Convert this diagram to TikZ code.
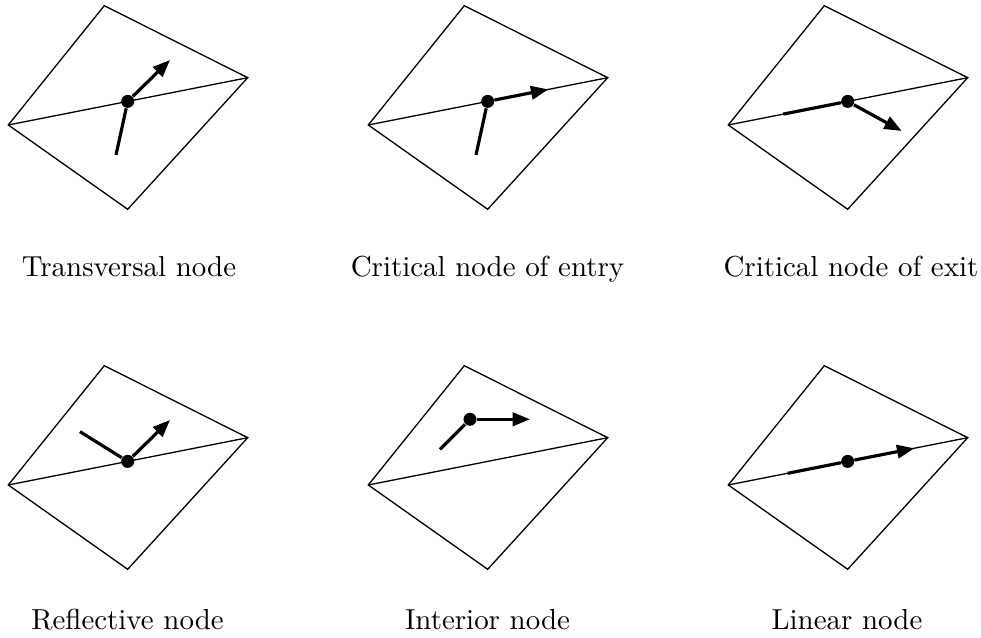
\documentclass[tikz,border=0pt]{standalone}
\usetikzlibrary{arrows.meta}
\newcommand\mycell[1]{%
  \coordinate (#1T) at (104.3,5.7);
  \coordinate (#1R) at (247.7,77.7);
  \coordinate (#1B) at (127.7,209.3);
  \coordinate (#1L) at (8.3,125);
  \draw[edge] (#1T) -- (#1R) -- (#1B) -- (#1L) -- cycle;
  \draw[edge] (#1L) -- (#1R);
}
\begin{document}
\begin{tikzpicture}[x=0.3457pt,y=-0.3457pt,
  edge/.style={line width=0.45pt,line join=miter},
  vec/.style={line width=1.1pt,-{Triangle[length=6pt,width=4.6pt]}},
  seg/.style={line width=1.1pt},
  dot/.style={circle,fill,inner sep=0pt,minimum size=4.5pt},
  lbl/.style={anchor=base}]
\useasboundingbox (0,0) rectangle (981,638);
% Panel 1: Transversal
\begin{scope}
  \mycell{a}
  \node[dot] (da) at (127.7,101.4) {};
  \coordinate (ta) at (170,60);
  \coordinate (sa) at (116,155);
  \draw[seg] (sa) -- (da);
  \draw[vec] (da) -- (ta);
  \node[lbl] (la) at (129,277) {Transversal node};
\end{scope}
% Panel 2: Critical entry
\begin{scope}[shift={(360,0)}]
  \mycell{b}
  \node[dot] (db) at (127.7,101.4) {};
  \coordinate (tb) at (188.3,89.4);
  \coordinate (sb) at (116,155);
  \draw[seg] (sb) -- (db);
  \draw[vec] (db) -- (tb);
  \node[lbl] (lb) at (127.5,277) {Critical node of entry};
\end{scope}
% Panel 3: Critical exit
\begin{scope}[shift={(720,0)}]
  \mycell{c}
  \node[dot] (dc) at (127.7,101.4) {};
  \coordinate (tc) at (181.7,131);
  \coordinate (sc) at (63.3,114.1);
  \draw[seg] (sc) -- (dc);
  \draw[vec] (dc) -- (tc);
  \node[lbl] (lc) at (131,277) {Critical node of exit};
\end{scope}
% Panel 4: Reflective
\begin{scope}[shift={(0,360)}]
  \mycell{d}
  \node[dot] (dd) at (127.7,101.4) {};
  \coordinate (td) at (170,60);
  \coordinate (sd) at (80,71.7);
  \draw[seg] (sd) -- (dd);
  \draw[vec] (dd) -- (td);
  \node[lbl] (ld) at (127.5,270) {Reflective node};
\end{scope}
% Panel 5: Interior
\begin{scope}[shift={(360,360)}]
  \mycell{e}
  \node[dot] (de) at (110,59.3) {};
  \coordinate (te) at (170,59.3);
  \coordinate (se) at (80,89.3);
  \draw[seg] (se) -- (de);
  \draw[vec] (de) -- (te);
  \node[lbl] (le) at (127.5,270) {Interior node};
\end{scope}
% Panel 6: Linear
\begin{scope}[shift={(720,360)}]
  \mycell{f}
  \node[dot] (df) at (127.7,101.4) {};
  \coordinate (tf) at (194.3,88.3);
  \coordinate (sf) at (67.7,113.3);
  \draw[seg] (sf) -- (df);
  \draw[vec] (df) -- (tf);
  \node[lbl] (lf) at (127,270) {Linear node};
\end{scope}
\end{tikzpicture}
\end{document}
